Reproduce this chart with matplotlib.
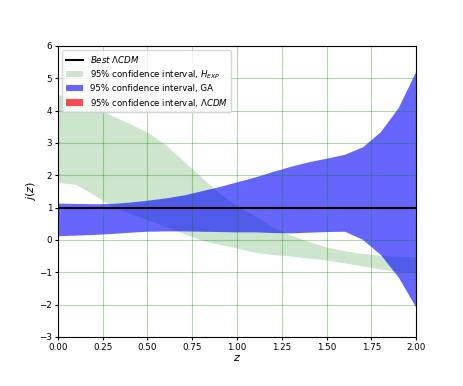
import numpy as np
import matplotlib
matplotlib.use("Agg")
import matplotlib.pyplot as plt

# redshift grid and bands
z = [0.0, 0.1, 0.2, 0.3, 0.4, 0.5, 0.6, 0.7, 0.8, 0.9, 1.0,
     1.1, 1.2, 1.3, 1.4, 1.5, 1.6, 1.7, 1.8, 1.9, 2.0]

hexp_upper = [4.5, 4.35, 4.15, 3.85, 3.6, 3.33, 2.95, 2.45, 1.95, 1.45, 1.05,
              0.75, 0.4, 0.15, -0.05, -0.22, -0.33, -0.42, -0.47, -0.5, -0.52]
hexp_lower = [1.78, 1.72, 1.4, 1.05, 0.82, 0.62, 0.42, 0.2, 0.0, -0.13, -0.25,
              -0.38, -0.45, -0.5, -0.56, -0.62, -0.71, -0.8, -0.9, -0.97, -1.02]

ga_upper = [1.14, 1.13, 1.12, 1.13, 1.17, 1.23, 1.3, 1.39, 1.52, 1.65, 1.8,
            1.95, 2.12, 2.28, 2.42, 2.53, 2.65, 2.88, 3.35, 4.1, 5.25]
ga_lower = [0.13, 0.15, 0.17, 0.2, 0.24, 0.27, 0.28, 0.28, 0.27, 0.26, 0.25,
            0.25, 0.23, 0.22, 0.24, 0.26, 0.27, 0.02, -0.45, -1.15, -2.1]

lcdm = [1.0] * len(z)

fig = plt.figure(figsize=(4.63, 3.86), dpi=100)
ax = fig.add_axes([0.125, 0.127, 0.774, 0.754])

ax.plot(z, lcdm, color='black', lw=1.5, label=r'$Best\ \Lambda CDM$')
ax.fill_between(z, hexp_lower, hexp_upper, color='green', alpha=0.2, lw=0,
                label=r'95% confidence interval, $H_{EXP}$')
ax.fill_between(z, ga_lower, ga_upper, color='blue', alpha=0.6, lw=0,
                label='95% confidence interval, GA')
ax.fill_between(z, lcdm, lcdm, color='red', alpha=0.7, lw=0,
                label=r'95% confidence interval, $\Lambda CDM$')

ax.set_xlim(0, 2)
ax.set_ylim(-3, 6)
ax.set_xticks(np.arange(0, 2.01, 0.25))
ax.set_yticks(range(-3, 7))
ax.tick_params(labelsize=6.3, length=2.5, pad=1.5)
ax.grid(True, color='green', alpha=0.3, lw=0.8)
ax.set_xlabel(r'$z$', fontsize=8, labelpad=1)
ax.set_ylabel(r'$j(z)$', fontsize=8)
ax.yaxis.set_label_coords(-0.056, 0.5)
ax.legend(loc='upper left', fontsize=6.2, labelspacing=0.4)

plt.savefig('out.png', dpi=100)
